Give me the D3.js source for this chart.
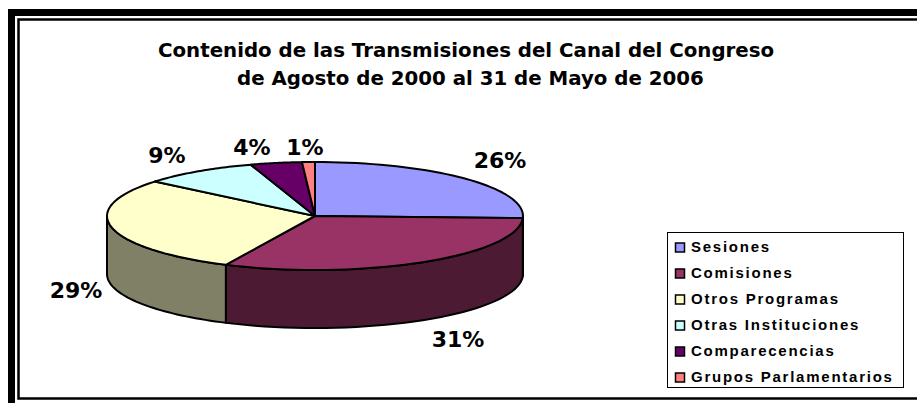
<!DOCTYPE html>
<html><head><meta charset="utf-8">
<script src="https://cdn.jsdelivr.net/npm/d3@7/dist/d3.min.js"></script>
<style>html,body{margin:0;padding:0;background:#fff}svg{display:block}</style>
</head><body><svg id="c" width="917" height="403"></svg>
<script>
const categories=["Sesiones","Comisiones","Otros Programas","Otras Instituciones","Comparecencias","Grupos Parlamentarios"];
const values=[25.6,31.45,28.95,9,4,1];
const topColors=["#9999ff","#993366","#ffffcc","#ccffff","#660066","#ff8080"];
const sideColors=["#4d4d80","#4d1a33","#808066","#668080","#330033","#804040"];
const titleLines=["Contenido de las Transmisiones del Canal del Congreso","de Agosto de 2000 al 31 de Mayo de 2006"];
const labelPos=[[500,168],[458,347],[76,298],[167,163],[252,155],[305,155]];

const svg=d3.select("#c");
const cx=315,cy=216,rx=208,ry=54,depth=58;
// frame: open on the right, as in the source
svg.append("path").attr("d","M917,12.5H11.5V403").attr("fill","none").attr("stroke","#000").attr("stroke-width",7);
svg.append("path").attr("d","M917,19.5H18.5V398.5H917").attr("fill","none").attr("stroke","#000").attr("stroke-width",2.5);

const titleSel=svg.append("g").attr("font-family","'DejaVu Sans'").attr("font-weight","bold").attr("font-size",19.8).attr("fill","#000");
titleLines.forEach((t,i)=>titleSel.append("text").attr("x",i?237:158).attr("y",i?85:57).text(t));

const pie=d3.pie().sort(null)(values);
const px=a=>cx+rx*Math.sin(a), py=a=>cy-ry*Math.cos(a);
const epath=(a0,a1,dy)=>d3.range(0,41).map(i=>a0+(a1-a0)*i/40).map(a=>[px(a),py(a)+dy]);
const line=d3.line();
const front0=Math.PI/2,front1=3*Math.PI/2;
const walls=svg.append("g");
pie.forEach((d,i)=>{
  const a0=Math.max(d.startAngle,front0),a1=Math.min(d.endAngle,front1);
  if(a1<=a0)return;
  const top=epath(a0,a1,0),bot=epath(a1,a0,depth);
  walls.append("path").attr("d",line(top.concat(bot))+"Z").attr("fill",sideColors[i]).attr("stroke","#000").attr("stroke-width",2).attr("stroke-linejoin","round");
});
const tops=svg.append("g");
pie.forEach((d,i)=>{
  tops.append("path").attr("d",line([[cx,cy]].concat(epath(d.startAngle,d.endAngle,0)))+"Z").attr("fill",topColors[i]).attr("stroke","#000").attr("stroke-width",2).attr("stroke-linejoin","round");
});
const lab=svg.append("g").attr("font-family","'DejaVu Sans'").attr("font-weight","bold").attr("font-size",22).attr("fill","#000").attr("text-anchor","middle");
const total=d3.sum(values);
pie.forEach((d,i)=>lab.append("text").attr("x",labelPos[i][0]).attr("y",labelPos[i][1]).text(Math.round(d.value/total*100)+"%"));
svg.append("rect").attr("x",667.5).attr("y",232.5).attr("width",236).attr("height",155).attr("fill","#fff").attr("stroke","#000").attr("stroke-width",1);
const leg=svg.append("g").attr("font-family","'Liberation Sans'").attr("font-weight","bold").attr("font-size",15).attr("letter-spacing",1.75);
const ly=d3.scalePoint().domain(categories).range([247.5,377.5]);
categories.forEach((c,i)=>{
  leg.append("rect").attr("x",675.5).attr("y",ly(c)-4.5).attr("width",9).attr("height",9).attr("fill",topColors[i]).attr("stroke","#000").attr("stroke-width",1.5);
  leg.append("text").attr("x",691).attr("y",ly(c)+4.5).text(c);
});
</script></body></html>
